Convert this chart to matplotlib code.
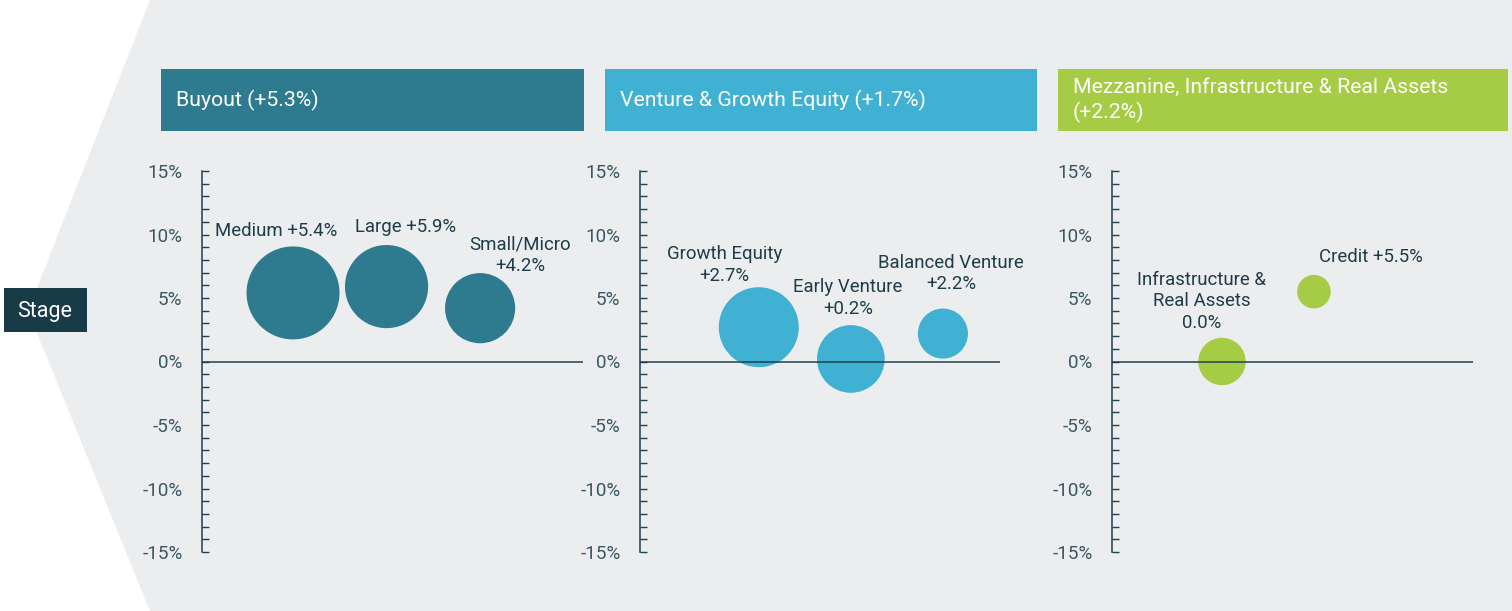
import matplotlib.pyplot as plt
from matplotlib.patches import Polygon, Rectangle

plt.rcParams['font.family'] = ['Roboto', 'DejaVu Sans']

# data
buyout_names = ['Medium', 'Large', 'Small/Micro']
buyout_returns = [5.4, 5.9, 4.2]
buyout_weights = [100, 80, 57]

venture_names = ['Growth Equity', 'Early Venture', 'Balanced Venture']
venture_returns = [2.7, 0.2, 2.2]
venture_weights = [74, 53, 29]

mezz_names = ['Infrastructure &\nReal Assets', 'Credit']
mezz_returns = [0.0, 5.5]
mezz_weights = [26, 13]

headers = ['Buyout (+5.3%)', 'Venture & Growth Equity (+1.7%)',
           'Mezzanine, Infrastructure & Real Assets\n(+2.2%)']

yticks = [-15, -10, -5, 0, 5, 10, 15]

W, H = 1512, 611
TEXT = '#1f3d48'
AXC = '#1f4250'
colors = ['#2e7a8f', '#40b1d2', '#a6cb45']

fig = plt.figure(figsize=(W / 100, H / 100), dpi=100)
fig.patch.set_facecolor('white')

# background layer in pixel coords
bg = fig.add_axes([0, 0, 1, 1])
bg.set_xlim(0, W)
bg.set_ylim(H, 0)
bg.axis('off')
bg.add_patch(Polygon([(150, 0), (W, 0), (W, H), (150, H), (28, 311)],
                     closed=True, facecolor='#ecedef', edgecolor='none'))
bg.add_patch(Rectangle((4, 288), 83, 44, facecolor='#173c48', edgecolor='none'))
bg.text(45, 311, 'Stage', color='white', fontsize=15.5, ha='center', va='center')

boxes = [(161, 584), (605, 1037), (1058, 1508)]
for (x0, x1), c, t in zip(boxes, colors, headers):
    bg.add_patch(Rectangle((x0, 69), x1 - x0, 62, facecolor=c, edgecolor='none'))
    bg.text(x0 + 15, 100, t, color='white', fontsize=15.3, ha='left', va='center',
            linespacing=1.3)


def make_panel(x0, x1, xlim, names, rets, weights, color, offsets):
    ax = fig.add_axes([x0 / W, (H - 552) / H, (x1 - x0) / W, 381 / H])
    ax.set_facecolor('none')
    for s in ['top', 'right', 'bottom']:
        ax.spines[s].set_visible(False)
    ax.spines['left'].set_color(AXC)
    ax.spines['left'].set_linewidth(1.1)
    ax.set_xticks([])
    ax.set_yticks(yticks)
    ax.set_yticklabels([f'{v}%' for v in yticks])
    ax.set_yticks(range(-15, 16), minor=True)
    ax.tick_params(axis='y', which='both', direction='in', length=5,
                   width=1, color=AXC, labelcolor='#3a5863', labelsize=13.6, pad=14)
    ax.set_xlim(*xlim)
    ax.set_ylim(-15, 15)
    xs = list(range(1, len(names) + 1))
    ax.scatter(xs, rets, s=[w * 44.8 for w in weights], color=color,
               edgecolors='none', zorder=2, clip_on=False)
    ax.axhline(0, color=AXC, lw=1.1, zorder=3)
    for x, y, n, r, off in zip(xs, rets, names, rets, offsets):
        sign = '+' if r > 0 else ''
        sep = ' ' if off[2] else '\n'
        ax.annotate(f'{n}{sep}{sign}{r:.1f}%', (x, y), xytext=off[:2],
                    textcoords='offset pixels', ha='center', va='center',
                    fontsize=13.4, color=TEXT, linespacing=1.25)
    return ax


make_panel(202, 583, (0.027, 4.10), buyout_names, buyout_returns, buyout_weights,
           colors[0], [(-17, 62, True), (19, 60, True), (40, 53, False)])
make_panel(640, 1000, (-0.29, 3.62), venture_names, venture_returns, venture_weights,
           colors[1], [(-34, 62, False), (-3, 61, False), (8, 60, False)])
make_panel(1112, 1473, (-0.196, 3.73), mezz_names, mezz_returns, mezz_weights,
           colors[2], [(-20, 60, False), (57, 35, True)])

fig.savefig('out.png', dpi=100, facecolor='white')
